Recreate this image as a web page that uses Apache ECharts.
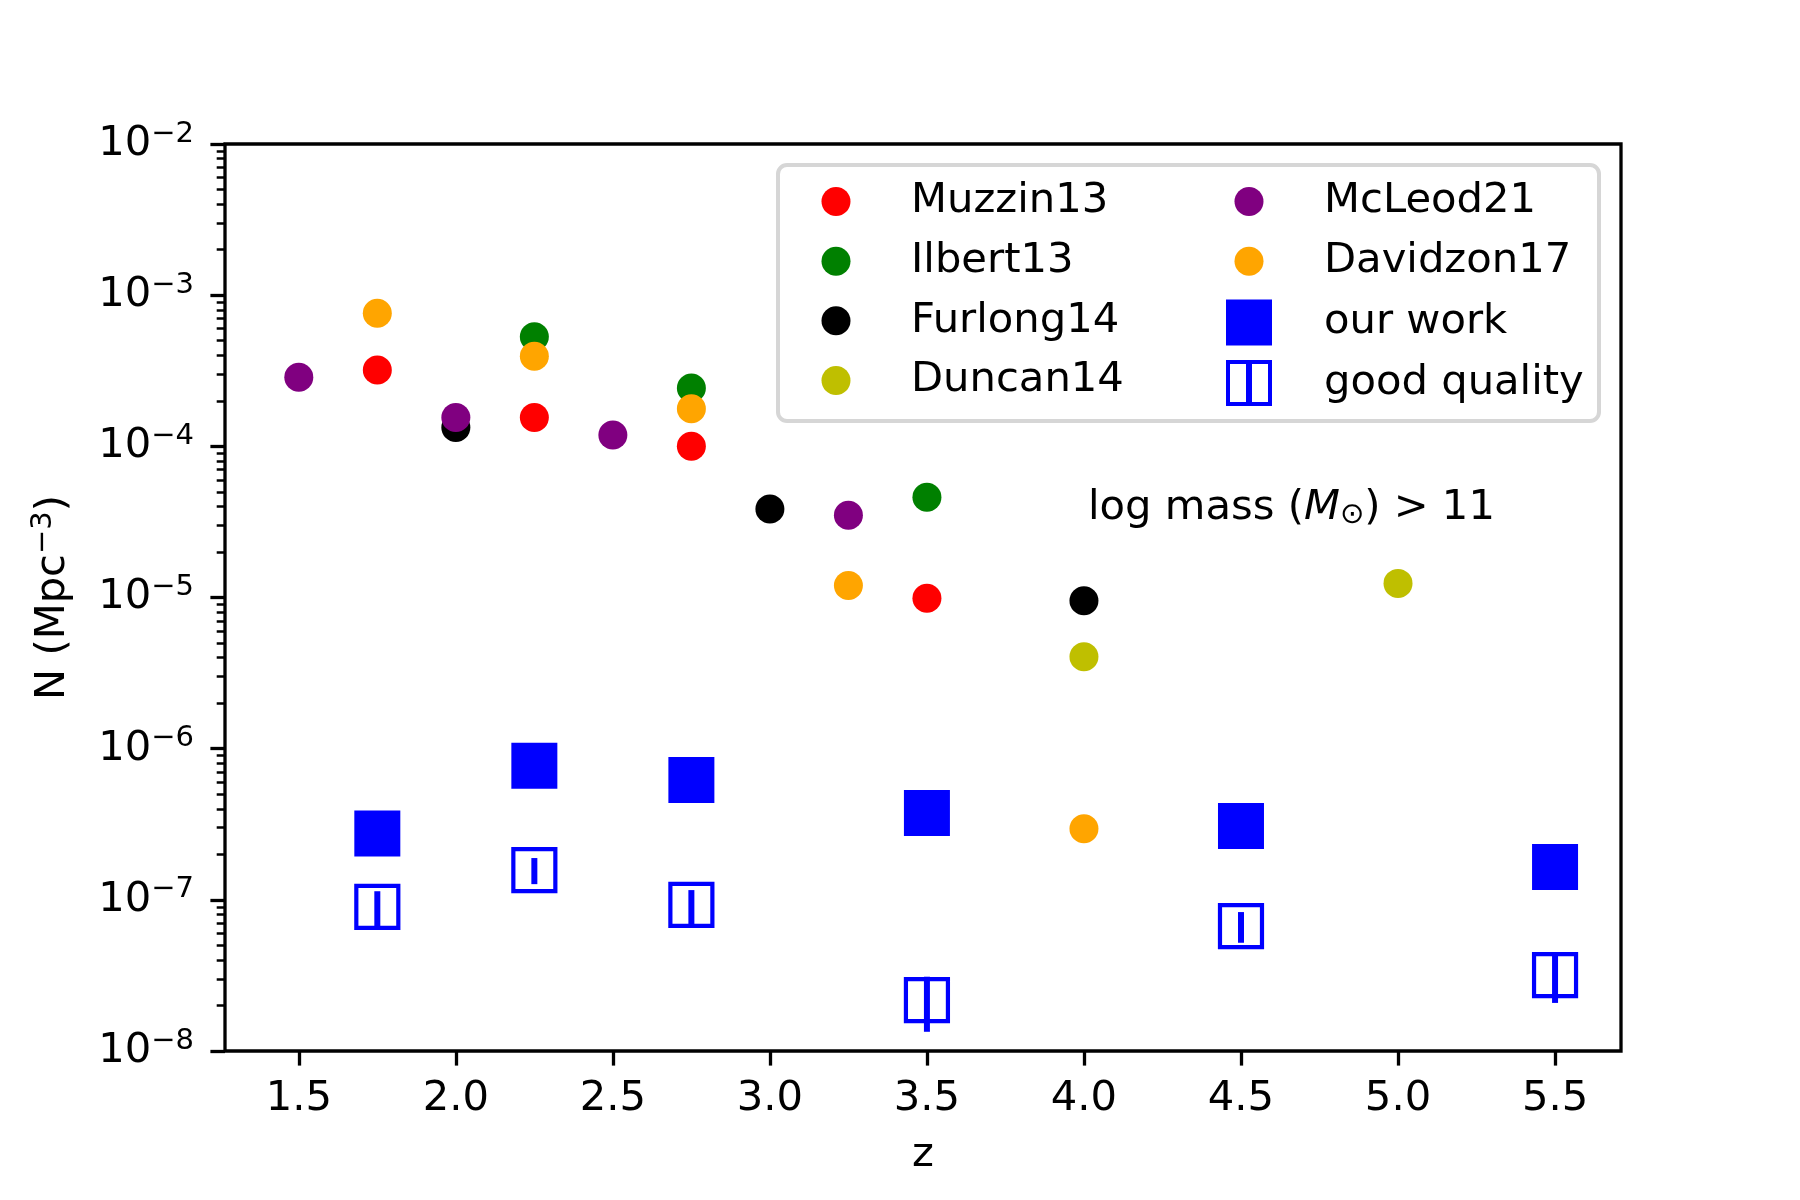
<!DOCTYPE html>
<html>
<head>
<meta charset="utf-8">
<script src="https://cdn.jsdelivr.net/npm/echarts@6.0.0/dist/echarts.min.js"></script>
<style>
html, body { margin: 0; background: #fff; }
#main { width: 1800px; height: 1200px; }
</style>
</head>
<body>
<div id="main"></div>
<script>
// redshift / number density
var zMuzzin = [1.75, 2.25, 2.75, 3.5];
var nMuzzin = [3.2e-4, 1.55e-4, 1.0e-4, 9.9e-6];
var zIlbert = [2.25, 2.75, 3.5];
var nIlbert = [5.3e-4, 2.43e-4, 4.6e-5];
var zFurlong = [2.0, 3.0, 4.0];
var nFurlong = [1.33e-4, 3.85e-5, 9.5e-6];
var zDuncan = [4.0, 5.0];
var nDuncan = [4.05e-6, 1.24e-5];
var zMcLeod = [1.5, 2.0, 2.5, 3.25];
var nMcLeod = [2.86e-4, 1.55e-4, 1.19e-4, 3.5e-5];
var zDavidzon = [1.75, 2.25, 2.75, 3.25, 4.0];
var nDavidzon = [7.6e-4, 3.95e-4, 1.77e-4, 1.2e-5, 2.95e-7];
var zOurs = [1.75, 2.25, 2.75, 3.5, 4.5, 5.5];
var nOurs = [2.75e-7, 7.7e-7, 6.2e-7, 3.75e-7, 3.08e-7, 1.65e-7];
var nGood = [8.97e-8, 1.57e-7, 9.25e-8, 2.17e-8, 6.7e-8, 3.18e-8];
var nGoodLow = [6.7e-8, 1.27e-7, 6.9e-8, 1.34e-8, 5.2e-8, 2.08e-8];
var nGoodHigh = [1.14e-7, 1.89e-7, 1.16e-7, 3.1e-8, 8.3e-8, 4.5e-8];

var xTicks = [1.5, 2.0, 2.5, 3.0, 3.5, 4.0, 4.5, 5.0, 5.5];
var yTicks = [1e-8, 1e-7, 1e-6, 1e-5, 1e-4, 1e-3, 1e-2];

// minor log ticks 2..9 x 10^n
var yMinor = [];
for (var e = -8; e < -2; e++) {
	for (var m = 2; m <= 9; m++) {
		yMinor.push(m * Math.pow(10, e));
	}
}

var FONT = 'DejaVu Sans';
var FS = 41.7;

function pairs(xs, ys) {
	var res = [];
	for (var i = 0; i < xs.length; i++) res.push([xs[i], ys[i]]);
	return res;
}

function dots(name, xs, ys, color) {
	return {
		name: name,
		type: 'scatter',
		symbol: 'circle',
		symbolSize: 29,
		itemStyle: { color: color, opacity: 1 },
		data: pairs(xs, ys)
	};
}

var goodIcon = 'path://M0,0 L46,0 L46,46 L0,46 Z M4,4 L4,42 L42,42 L42,4 Z M20,4 L26,4 L26,42 L20,42 Z';

var legendText = function (pad) {
	return { fontFamily: FONT, fontSize: FS, color: '#000', padding: [0, 0, 0, pad] };
};

var myChart = echarts.init(document.getElementById('main'));
var option = {
	animation: false,
	backgroundColor: '#fff',
	grid: {
		left: 225, right: 179, top: 144, bottom: 149,
		show: true, borderColor: '#000', borderWidth: 3.3, backgroundColor: 'transparent'
	},
	xAxis: {
		type: 'value',
		min: 1.265,
		max: 5.71,
		name: 'z',
		nameLocation: 'middle',
		nameGap: 83,
		nameTextStyle: { fontFamily: FONT, fontSize: FS, color: '#000' },
		axisLine: { show: false },
		splitLine: { show: false },
		axisTick: { customValues: xTicks, length: 14.6, lineStyle: { color: '#000', width: 3.3 } },
		axisLabel: {
			customValues: xTicks,
			margin: 27,
			fontFamily: FONT, fontSize: FS, color: '#000',
			formatter: function (v) { return v.toFixed(1); }
		}
	},
	yAxis: [{
		type: 'log',
		logBase: 10,
		min: 1e-8,
		max: 1e-2,
		position: 'left',
		name: '{a|N (Mpc}{s|−3}{a|)}',
		nameLocation: 'middle',
		nameGap: 147,
		nameRotate: 90,
		nameTextStyle: {
			rich: {
				a: { fontFamily: FONT, fontSize: FS, color: '#000' },
				s: { fontFamily: FONT, fontSize: 29, color: '#000', padding: [0, 0, 20, 0] }
			}
		},
		axisLine: { show: false },
		splitLine: { show: false },
		axisTick: { customValues: yTicks, length: 14.6, lineStyle: { color: '#000', width: 3.3 } },
		axisLabel: {
			customValues: yTicks,
			margin: 31,
			formatter: function (v) {
				var p = Math.round(Math.log(v) / Math.LN10);
				return '{b|10}{s|−' + (-p) + '}';
			},
			rich: {
				b: { fontFamily: FONT, fontSize: FS, color: '#000' },
				s: { fontFamily: FONT, fontSize: 29, color: '#000', padding: [0, 0, 20, 0] }
			}
		}
	}, {
		type: 'log',
		logBase: 10,
		min: 1e-8,
		max: 1e-2,
		position: 'left',
		offset: 0,
		axisLine: { show: false },
		splitLine: { show: false },
		axisLabel: { show: false },
		axisTick: { customValues: yMinor, length: 8.3, lineStyle: { color: '#000', width: 2.5 } }
	}],
	legend: [{
		orient: 'vertical',
		left: 821.5, top: 180.6,
		padding: 0,
		itemWidth: 29, itemHeight: 29, itemGap: 17.6,
		selectedMode: false,
		textStyle: legendText(55.5),
		data: ['Muzzin13', 'Ilbert13', 'Furlong14', 'Duncan14']
	}, {
		orient: 'vertical',
		left: 1234.5, top: 180.6,
		padding: 0,
		itemWidth: 29, itemHeight: 29, itemGap: 17.6,
		selectedMode: false,
		textStyle: legendText(55.5),
		data: ['McLeod21', 'Davidzon17']
	}, {
		orient: 'vertical',
		left: 1226, top: 299.5,
		padding: 0,
		itemWidth: 46, itemHeight: 46, itemGap: 14.5,
		selectedMode: false,
		textStyle: legendText(47),
		data: [
			{ name: 'our work', icon: 'rect' },
			{ name: 'good quality', icon: goodIcon, itemStyle: { color: '#0000ff', borderWidth: 0 } }
		]
	}],
	graphic: [{
		type: 'rect',
		z: -1,
		shape: { x: 778, y: 165, width: 821, height: 256, r: 9 },
		style: { fill: 'rgba(255,255,255,0.8)', stroke: '#d6d6d6', lineWidth: 4 }
	}, {
		type: 'text',
		style: {
			x: 1088, y: 508,
			text: 'log mass ({i|M}{o|⊙}) > 11',
			fontFamily: FONT, fontSize: FS, fill: '#000',
			verticalAlign: 'middle',
			rich: {
				i: { fontFamily: FONT, fontSize: FS, fontStyle: 'italic', fill: '#000' },
				o: { fontFamily: FONT, fontSize: 29, fill: '#000', padding: [14, 0, 0, 0] }
			}
		}
	}],
	series: [
		dots('Muzzin13', zMuzzin, nMuzzin, '#ff0000'),
		dots('Ilbert13', zIlbert, nIlbert, '#008000'),
		dots('Furlong14', zFurlong, nFurlong, '#000000'),
		dots('Duncan14', zDuncan, nDuncan, '#bfbf00'),
		dots('McLeod21', zMcLeod, nMcLeod, '#800080'),
		dots('Davidzon17', zDavidzon, nDavidzon, '#ffa500'),
		{
			name: 'our work',
			type: 'scatter',
			symbol: 'rect',
			symbolSize: 46,
			itemStyle: { color: '#0000ff', opacity: 1 },
			data: pairs(zOurs, nOurs)
		},
		{
			name: 'good quality',
			type: 'scatter',
			symbol: 'rect',
			symbolSize: 42,
			itemStyle: { color: 'rgba(0,0,0,0)', borderColor: '#0000ff', borderWidth: 4.2, opacity: 1 },
			data: pairs(zOurs, nGood)
		},
		{
			type: 'custom',
			encode: { x: 0, y: [1, 2] },
			data: zOurs.map(function (z, i) { return [z, nGoodLow[i], nGoodHigh[i]]; }),
			renderItem: function (params, api) {
				var lo = api.coord([api.value(0), api.value(1)]);
				var hi = api.coord([api.value(0), api.value(2)]);
				return {
					type: 'line',
					shape: { x1: lo[0], y1: lo[1], x2: hi[0], y2: hi[1] },
					style: { stroke: '#0000ff', lineWidth: 6 }
				};
			}
		}
	]
};
myChart.setOption(option);
</script>
</body>
</html>
